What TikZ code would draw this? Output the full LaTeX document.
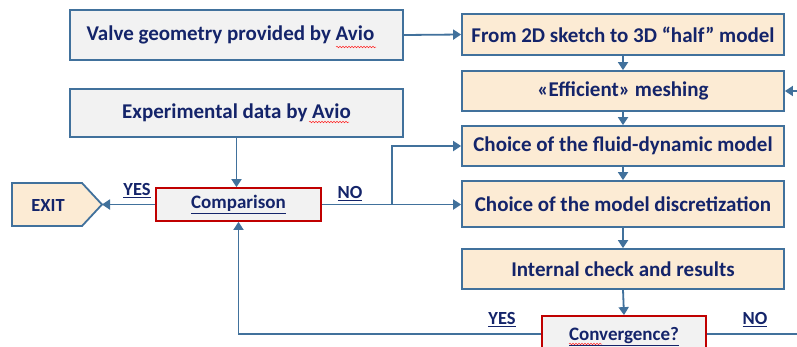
\documentclass[tikz,border=0pt]{standalone}
\usepackage{fontspec}
\setmainfont{Carlito}
\usetikzlibrary{arrows.meta,decorations.pathmorphing}
\definecolor{flowline}{HTML}{41719C}
\definecolor{boxgrey}{HTML}{F2F2F2}
\definecolor{boxpeach}{HTML}{FCEBD4}
\definecolor{navytext}{HTML}{14246A}
\definecolor{alertred}{HTML}{C00000}
\tikzset{
  basebox/.style={draw=flowline, line width=1.8pt, inner sep=0pt,
    text=navytext, font=\fontsize{21}{23}\selectfont\bfseries},
  greybox/.style={basebox, fill=boxgrey},
  peachbox/.style={basebox, fill=boxpeach, minimum width=322pt},
  decisionbox/.style={basebox, draw=alertred, fill=boxgrey,
    font=\fontsize{19}{21}\selectfont\bfseries},
  flow/.style={draw=flowline, line width=1.8pt, -{Triangle[width=10pt,length=8pt]}},
  answer/.style={text=navytext, font=\fontsize{18.5}{20}\selectfont\bfseries, inner sep=1pt},
  spellmark/.style={draw=red!85!white, line width=0.5pt,
    decorate, decoration={snake, amplitude=0.8pt, segment length=3pt}}
}
\begin{document}
\begin{tikzpicture}[x=1pt,y=-1pt]
  \useasboundingbox (0,0) rectangle (797,346);
  \clip (0,0) rectangle (797,346);
  \fill[white] (0,0) rectangle (797,346);

  % input boxes on the left
  \node[greybox, minimum width=333pt, minimum height=50pt] (valve) at (236.5,35)
    {\hspace*{-12pt}Valve geometry provided by Avio};
  \node[greybox, minimum width=333pt, minimum height=48pt] (exper) at (236.5,113)
    {Experimental data by Avio};

  % processing chain on the right
  \node[peachbox, minimum height=41pt] (sketch) at (623,34.5)
    {From 2D sketch to 3D ``half'' model};
  \node[peachbox, minimum height=40pt] (mesh) at (623,91)
    {«Efficient» meshing};
  \node[peachbox, minimum height=40pt] (fluid) at (623,146)
    {Choice of the fluid-dynamic model};
  \node[peachbox, minimum height=46pt] (discr) at (623,204)
    {Choice of the model discretization};
  \node[peachbox, minimum height=40pt] (check) at (623,269)
    {Internal check and results};

  % decisions
  \node[decisionbox, minimum width=165pt, minimum height=33pt] (comp) at (238.5,204.5)
    {\underline{Comparison}};
  \node[decisionbox, minimum width=164pt, minimum height=36pt] (conv) at (624,334)
    {\raisebox{0pt}[\height][0pt]{\underline{Convergence?}}};

  % exit marker
  \draw[line width=1.8pt, draw=flowline, fill=boxpeach]
    (12,183) -- (82,183) -- (102,204.5) -- (82,226) -- (12,226) -- cycle;
  \coordinate (exittip) at (102,204.5);
  \node[text=navytext, font=\fontsize{18.5}{20}\selectfont\bfseries] (exit) at (48,205) {EXIT};

  % spell-check marks
  \draw[spellmark] (336,47) -- (376,47);
  \draw[spellmark] (309,122) -- (349,122);
  \draw[spellmark] (569,344) -- (602,344);

  % connectors
  \draw[flow] (valve.east) -- (sketch.west);
  \draw[flow] (sketch.south) -- (mesh.north);
  \draw[flow] (mesh.south) -- (fluid.north);
  \draw[flow] (fluid.south) -- (discr.north);
  \draw[flow] (discr.south) -- (check.north);
  \draw[flow] (check.south) -- (conv.north);
  \draw[flow] (exper.south) -- (exper.south |- comp.north);
  \draw[flow] (comp.west) -- (exittip);

  \coordinate (split) at (392,204.5);
  \draw[flow] (comp.east) -- (split) -- (discr.west |- split);
  \draw[flow] (split) |- (fluid.west);

  \draw[flow] (conv.west) -- (comp.south |- conv.west) -- (comp.south);
  \coordinate (loopright) at (803,334);
  \draw[flow] (conv.east) -- (loopright) |- (mesh.east);

  % branch labels
  \node[answer, anchor=south] (yes1) at (137,199) {\underline{YES}};
  \node[answer, anchor=south] (no1) at (350,202) {\underline{NO}};
  \node[answer, anchor=south] (yes2) at (502,328) {\underline{YES}};
  \node[answer, anchor=south] (no2) at (755,328) {\underline{NO}};
\end{tikzpicture}
\end{document}
